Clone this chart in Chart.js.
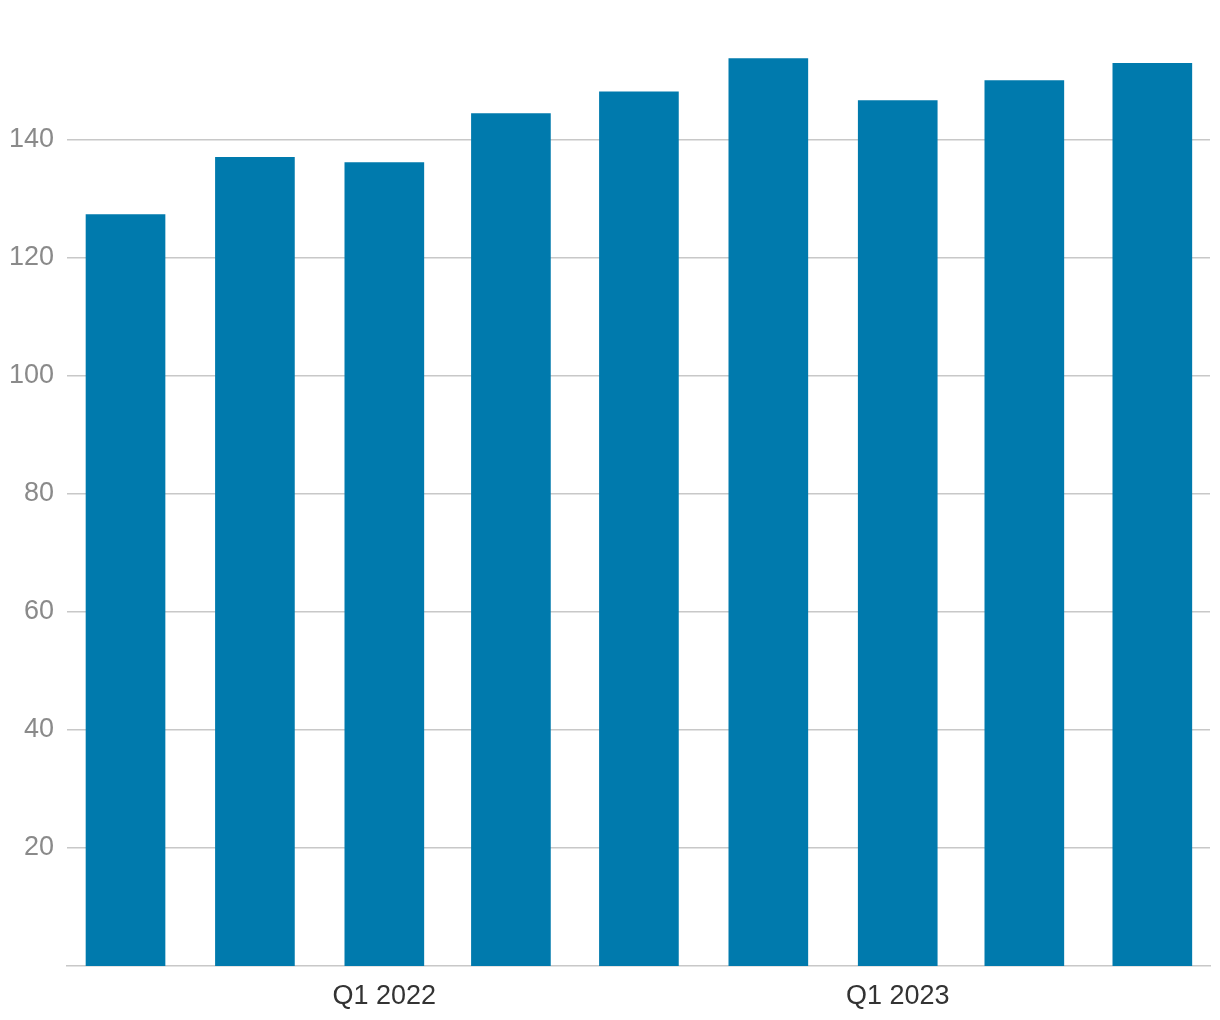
<!DOCTYPE html>
<html>
<head>
<meta charset="utf-8">
<script src="https://cdn.jsdelivr.net/npm/chart.js@4/dist/chart.umd.min.js"></script>
<style>
  html, body { margin: 0; padding: 0; background: #ffffff; }
  #myChart { display: block; }
</style>
</head>
<body>
<canvas id="myChart" width="1220" height="1020"></canvas>
<script>
// quarter start dates, labels and values
const quarterDates = ['2021-07-01', '2021-10-01', '2022-01-01', '2022-04-01', '2022-07-01', '2022-10-01', '2023-01-01', '2023-04-01', '2023-07-01'];
const quarterLabels = ['Q3 2021', 'Q4 2021', 'Q1 2022', 'Q2 2022', 'Q3 2022', 'Q4 2022', 'Q1 2023', 'Q2 2023', 'Q3 2023'];
const values = [127.3, 137.0, 136.1, 144.4, 148.1, 153.7, 146.6, 150.0, 152.9];
const yTicks = [20, 40, 60, 80, 100, 120, 140];

const DAY = 24 * 3600 * 1000;
const xs = quarterDates.map((d) => Date.parse(d + 'T00:00:00Z'));
const points = xs.map((x, i) => ({ x: x, y: values[i] }));
const fontFam = '"Liberation Sans", Arial, Helvetica, sans-serif';

const ctx = document.getElementById('myChart');
new Chart(ctx, {
    type: 'bar',
    data: {
        datasets: [{
            data: points,
            backgroundColor: '#007aad',
            borderWidth: 0,
            barThickness: 79
        }]
    },
    options: {
        responsive: false,
        animation: false,
        layout: {
            padding: { top: 51, right: 10, bottom: 0, left: 0 }
        },
        plugins: {
            legend: { display: false },
            tooltip: { enabled: false }
        },
        scales: {
            x: {
                type: 'linear',
                offset: false,
                min: xs[0] - 41.6 * DAY,
                max: xs[xs.length - 1] + 41 * DAY,
                afterBuildTicks: (scale) => {
                    scale.ticks = xs.filter((x, i) => quarterLabels[i].startsWith('Q1')).map((v) => ({ value: v }));
                },
                afterFit: (scale) => { scale.height = 54; },
                grid: { display: false, drawTicks: false },
                border: { display: true, color: '#c8c8c8', width: 1.5 },
                ticks: {
                    autoSkip: false,
                    maxRotation: 0,
                    padding: 14,
                    color: '#333333',
                    font: { family: fontFam, size: 27 },
                    callback: (v) => {
                        const i = xs.indexOf(v);
                        return i >= 0 ? quarterLabels[i] : '';
                    }
                }
            },
            y: {
                min: 0,
                max: 155,
                afterBuildTicks: (scale) => {
                    scale.ticks = yTicks.map((v) => ({ value: v }));
                },
                afterFit: (scale) => { scale.width = 67; },
                grid: { color: '#c8c8c8', lineWidth: 1.5, drawTicks: false },
                border: { display: false },
                ticks: {
                    padding: 13,
                    color: '#8a8a8a',
                    font: { family: fontFam, size: 27 }
                }
            }
        }
    }
});
</script>
</body>
</html>
